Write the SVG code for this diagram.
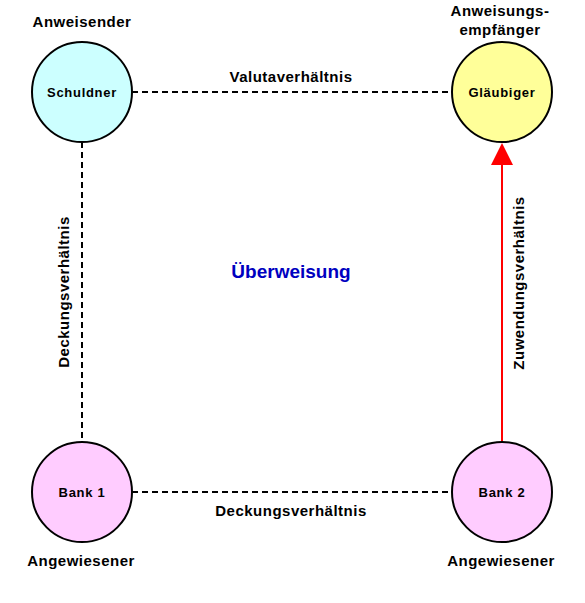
<svg xmlns="http://www.w3.org/2000/svg" width="585" height="603" viewBox="0 0 585 603">
<style>
.lbl{font-family:"Liberation Sans",Arial,sans-serif;font-weight:bold;font-size:15px;fill:#000;letter-spacing:0.5px;text-anchor:middle}
.nl{font-family:"Liberation Sans",Arial,sans-serif;font-weight:bold;font-size:13px;fill:#000;letter-spacing:0.7px;text-anchor:middle}
.c{stroke:#000;stroke-width:2}
.d{stroke:#000;stroke-width:2;stroke-dasharray:6 4;fill:none}
</style>
<rect width="585" height="603" fill="#fff"/>
<g id="connectors">
<line class="d" x1="132" y1="92" x2="452" y2="92"/>
<line class="d" x1="82" y1="142" x2="82" y2="442"/>
<line class="d" x1="132" y1="492" x2="452" y2="492"/>
<line x1="502" y1="442" x2="502" y2="162" stroke="#ff0000" stroke-width="2"/>
<polygon points="502,143 513,165 491,165" fill="#ff0000"/>
<text class="lbl" x="291" y="82">Valutaverhältnis</text>
<text class="lbl" x="291" y="516">Deckungsverhältnis</text>
<text class="lbl" transform="translate(69,292) rotate(-90)">Deckungsverhältnis</text>
<text class="lbl" transform="translate(524,283) rotate(-90)">Zuwendungsverhältnis</text>
</g>
<g id="schuldner">
<circle class="c" cx="82" cy="92" r="50" fill="#ccffff"/>
<text class="nl" x="82" y="97">Schuldner</text>
<text class="lbl" x="82" y="27">Anweisender</text>
</g>
<g id="glaeubiger">
<circle class="c" cx="502" cy="92" r="50" fill="#ffff99"/>
<text class="nl" x="502" y="97">Gläubiger</text>
<text class="lbl" x="500" y="16">Anweisungs-</text>
<text class="lbl" x="500" y="35">empfänger</text>
</g>
<g id="bank1">
<circle class="c" cx="82" cy="492" r="50" fill="#ffccff"/>
<text class="nl" x="82" y="497">Bank 1</text>
<text class="lbl" x="81" y="566">Angewiesener</text>
</g>
<g id="bank2">
<circle class="c" cx="502" cy="492" r="50" fill="#ffccff"/>
<text class="nl" x="502" y="497">Bank 2</text>
<text class="lbl" x="501" y="566">Angewiesener</text>
</g>
<text x="291" y="278" font-family="Liberation Sans,Arial,sans-serif" font-weight="bold" font-size="19" fill="#0000c0" text-anchor="middle">Überweisung</text>
</svg>
